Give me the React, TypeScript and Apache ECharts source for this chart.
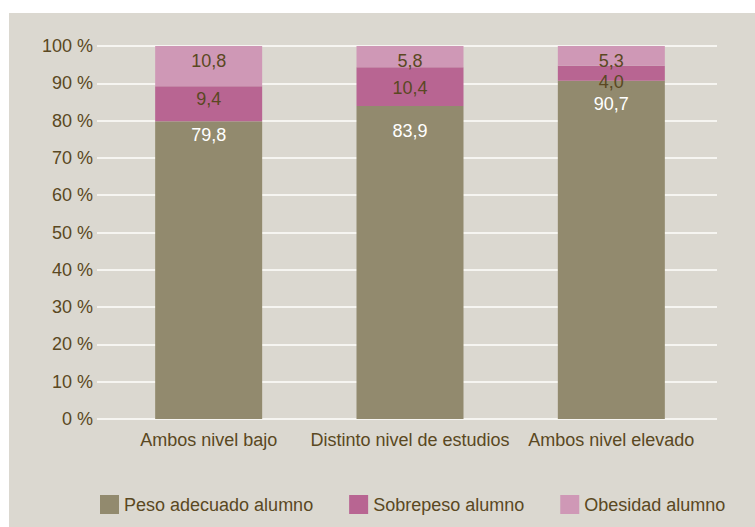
import React, { useEffect, useRef } from "react";
import * as echarts from "echarts";

const categories = ["Ambos nivel bajo", "Distinto nivel de estudios", "Ambos nivel elevado"];
const seriesNames = ["Peso adecuado alumno", "Sobrepeso alumno", "Obesidad alumno"];
const pesoAdecuado = [79.8, 83.9, 90.7];
const sobrepeso = [9.4, 10.4, 4.0];
const obesidad = [10.8, 5.8, 5.3];
const yTicks = [0, 10, 20, 30, 40, 50, 60, 70, 80, 90, 100];

// label distance below each segment's top edge (px), per category
const pesoLabelGap = [5, 16, 14];
const sobreLabelGap = [4, 12, 7];
const obesLabelGap = [6, 6, 6];

const FONT = "'Liberation Sans', Arial, sans-serif";
const BROWN = "#5a4822";
const BG = "#dbd8d0";
const C1 = "#928a6e";
const C2 = "#b86592";
const C3 = "#cf98b6";

const fmt = (v: number) => v.toFixed(1).replace(".", ",");

const items = (vals: number[], gaps: number[]) =>
  vals.map((v, i) => ({ value: v, label: { distance: gaps[i] } }));

export default function App() {
  const ref = useRef<HTMLDivElement>(null);
  useEffect(() => {
    if (!ref.current) return;
    const chart = echarts.init(ref.current, null, { renderer: "svg" });
    const labelBase = {
      show: true,
      fontFamily: FONT,
      fontSize: 18,
      lineHeight: 18,
      position: "insideTop",
      formatter: (p: any) => fmt(p.value),
    };
    chart.setOption({
      animation: false,
      backgroundColor: "#ffffff",
      textStyle: { fontFamily: FONT },
      graphic: [
        { type: "rect", z: -100, silent: true, shape: { x: 9, y: 13, width: 746, height: 514 }, style: { fill: BG } },
      ],
      legend: {
        left: 95,
        top: 490,
        itemWidth: 19,
        itemHeight: 19,
        itemGap: 36,
        icon: "rect",
        data: seriesNames,
        textStyle: { color: BROWN, fontSize: 18, fontFamily: FONT },
      },
      grid: [
        { left: 97, right: 38, top: 46, bottom: 108 },
        { left: 108, right: 43, top: 46, bottom: 108 },
      ],
      xAxis: [
        { type: "value", gridIndex: 0, show: false, min: 0, max: 1 },
        {
          type: "category",
          gridIndex: 1,
          data: categories,
          axisLine: { show: false },
          axisTick: { show: false },
          axisLabel: { color: BROWN, fontSize: 18, fontFamily: FONT, margin: 12, interval: 0 },
        },
      ],
      yAxis: [
        {
          type: "value",
          gridIndex: 0,
          min: yTicks[0],
          max: yTicks[yTicks.length - 1],
          interval: 10,
          axisLine: { show: false },
          axisTick: { show: false },
          axisLabel: { color: BROWN, fontSize: 18, fontFamily: FONT, margin: 4, formatter: "{value} %" },
          splitLine: { lineStyle: { color: "#f6f5f1", width: 2 } },
        },
        { type: "value", gridIndex: 1, min: 0, max: 100, show: false, splitLine: { show: false } },
      ],
      series: [
        {
          name: seriesNames[0],
          type: "bar",
          stack: "t",
          xAxisIndex: 1,
          yAxisIndex: 1,
          barWidth: 107,
          itemStyle: { color: C1 },
          label: { ...labelBase, color: "#ffffff" },
          data: items(pesoAdecuado, pesoLabelGap),
        },
        {
          name: seriesNames[1],
          type: "bar",
          stack: "t",
          xAxisIndex: 1,
          yAxisIndex: 1,
          barWidth: 107,
          itemStyle: { color: C2 },
          label: { ...labelBase, color: BROWN },
          data: items(sobrepeso, sobreLabelGap),
        },
        {
          name: seriesNames[2],
          type: "bar",
          stack: "t",
          xAxisIndex: 1,
          yAxisIndex: 1,
          barWidth: 107,
          itemStyle: { color: C3 },
          label: { ...labelBase, color: BROWN },
          data: items(obesidad, obesLabelGap),
        },
      ],
    });
    return () => chart.dispose();
  }, []);
  return (
    <div
      ref={ref}
      style={{ position: "fixed", left: 0, top: 0, width: 755, height: 527 }}
    />
  );
}
